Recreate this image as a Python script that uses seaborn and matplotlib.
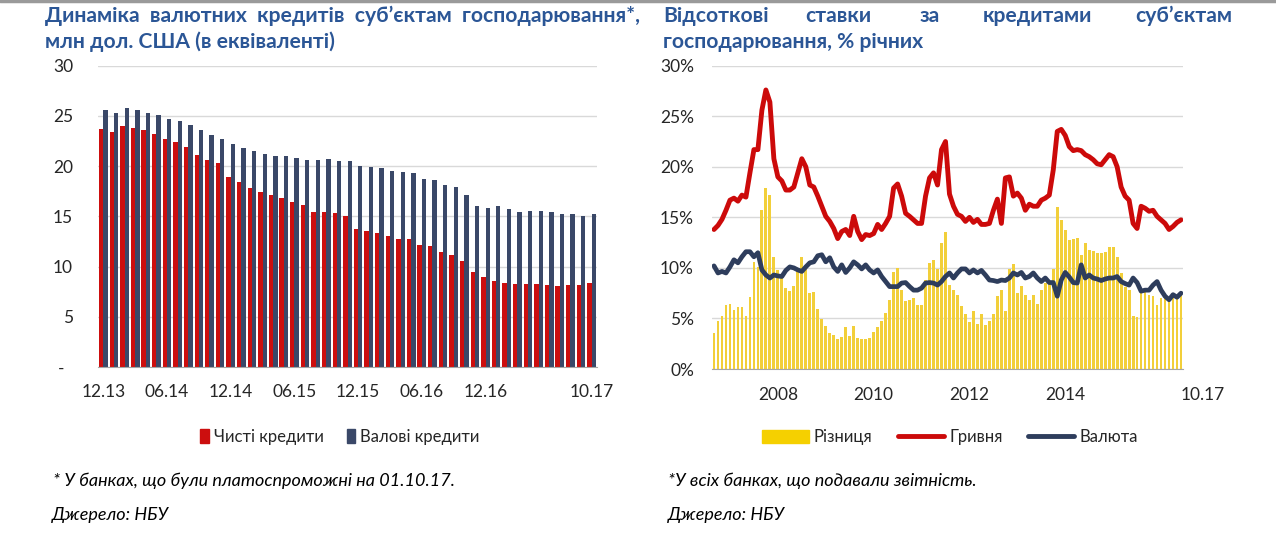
import numpy as np
import pandas as pd
import matplotlib
matplotlib.use("Agg")
import matplotlib.pyplot as plt
import seaborn as sns
from matplotlib.patches import Patch
from matplotlib.lines import Line2D

# ---------------- data: left chart (USD bln, monthly 12.13 .. 10.17) ----------------
left_months = pd.date_range("2013-12-01", "2017-10-01", freq="MS").strftime("%m.%y").tolist()
net_loans = [23.7, 23.4, 24.0, 23.8, 23.6, 23.2, 22.7, 22.4, 21.9, 21.1,
             20.6, 20.3, 18.9, 18.4, 17.8, 17.4, 17.1, 16.8, 16.4, 16.1,
             15.4, 15.4, 15.3, 15.0, 13.7, 13.5, 13.3, 13.0, 12.7, 12.7,
             12.1, 12.0, 11.5, 11.2, 10.6, 9.5, 8.95, 8.6, 8.35, 8.25,
             8.3, 8.3, 8.15, 8.1, 8.2, 8.2, 8.4]
gross_loans = [25.6, 25.3, 25.8, 25.6, 25.3, 25.1, 24.7, 24.5, 24.1, 23.6,
               23.1, 22.7, 22.2, 21.8, 21.5, 21.2, 21.0, 21.0, 20.8, 20.6,
               20.6, 20.7, 20.5, 20.5, 20.0, 19.95, 19.8, 19.5, 19.4, 19.3,
               18.7, 18.6, 18.1, 17.9, 17.1, 16.0, 15.85, 16.0, 15.7, 15.45,
               15.5, 15.5, 15.4, 15.2, 15.2, 15.0, 15.2]
left_labels = {"12.13", "06.14", "12.14", "06.15", "12.15", "06.16", "12.16", "10.17"}
left_series = ["Чисті кредити", "Валові кредити"]

# ---------------- data: right chart (% p.a., monthly 01.08 .. 10.17) ----------------
right_months = pd.date_range("2008-01-01", "2017-10-01", freq="MS")
uah_rate = [13.8, 14.2, 14.8, 15.7, 16.7, 16.9, 16.6, 17.2, 17.0, 19.4,
            21.7, 21.7, 25.6, 27.6, 26.4, 20.8, 19.0, 18.6, 17.7, 17.7,
            18.0, 19.4, 20.8, 20.0, 18.2, 18.0, 17.1, 16.1, 15.1, 14.6,
            13.9, 12.9, 13.6, 13.8, 13.2, 15.1, 13.6, 12.8, 13.3, 13.2,
            13.4, 14.3, 13.8, 14.4, 15.1, 17.9, 18.3, 17.1, 15.4, 15.1,
            14.75, 14.4, 14.4, 17.1, 18.9, 19.4, 18.2, 21.7, 22.5, 17.3,
            16.1, 15.3, 15.1, 14.6, 15.0, 14.5, 14.8, 14.3, 14.3, 14.4,
            15.7, 16.8, 14.4, 18.9, 19.0, 17.1, 17.4, 16.9, 15.7, 16.3,
            16.1, 16.1, 16.7, 16.9, 17.2, 19.7, 23.5, 23.7, 23.1, 22.0,
            21.6, 21.7, 21.6, 21.2, 21.0, 20.7, 20.3, 20.2, 20.7, 21.2,
            21.0, 20.0, 18.0, 17.1, 16.7, 14.4, 13.9, 16.1, 15.9, 15.6,
            15.7, 15.1, 14.75, 14.4, 13.8, 14.1, 14.5, 14.75]
fx_rate = [10.2, 9.5, 9.65, 9.5, 10.1, 10.8, 10.5, 11.1, 11.6, 11.6,
           11.1, 11.5, 9.8, 9.3, 9.0, 9.3, 9.2, 9.15, 9.75, 10.1,
           10.0, 9.8, 9.65, 10.1, 10.5, 10.6, 11.2, 11.3, 10.6, 11.0,
           10.1, 9.65, 10.3, 9.55, 10.0, 10.6, 10.3, 9.9, 10.3, 9.8,
           9.5, 9.8, 9.15, 8.65, 8.15, 8.15, 8.15, 8.5, 8.55, 8.15,
           7.8, 7.8, 8.0, 8.5, 8.55, 8.5, 8.3, 8.65, 9.15, 9.5,
           9.0, 9.5, 9.9, 9.9, 9.5, 9.8, 9.5, 9.75, 9.3, 8.8,
           8.75, 8.65, 8.8, 8.75, 9.0, 9.5, 9.3, 9.55, 9.0, 9.15,
           9.5, 9.0, 8.65, 9.0, 8.55, 8.55, 7.2, 8.8, 9.55, 9.1,
           8.55, 8.5, 10.3, 9.0, 9.3, 9.0, 8.9, 8.75, 8.9, 9.0,
           9.0, 9.15, 8.65, 8.45, 8.3, 9.0, 8.55, 7.7, 7.8, 7.8,
           8.3, 8.65, 7.8, 7.2, 6.85, 7.35, 7.1, 7.5]
spread = [3.55, 4.7, 5.2, 6.35, 6.4, 5.85, 6.1, 6.1, 5.2, 7.1,
          10.6, 10.1, 15.7, 17.9, 17.2, 11.1, 9.8, 9.0, 8.0, 7.7,
          8.2, 9.65, 11.1, 9.9, 7.5, 7.6, 5.9, 4.9, 4.3, 3.6,
          3.4, 2.95, 3.2, 4.2, 3.3, 4.3, 3.05, 2.95, 2.95, 3.05,
          3.7, 4.2, 4.7, 5.5, 6.85, 9.55, 10.0, 7.8, 6.7, 6.85,
          7.0, 6.35, 6.35, 8.8, 10.5, 10.8, 9.9, 12.5, 13.6, 8.3,
          7.8, 7.3, 6.2, 5.45, 4.6, 5.7, 4.5, 5.45, 4.4, 4.7,
          5.4, 7.2, 7.8, 5.7, 9.9, 10.4, 7.5, 8.2, 7.3, 6.85,
          7.3, 6.4, 7.8, 8.55, 8.4, 9.9, 16.0, 14.75, 13.7, 12.8,
          12.9, 13.0, 11.3, 12.45, 11.8, 11.7, 11.5, 11.5, 11.6, 12.05,
          12.05, 11.05, 9.5, 8.15, 7.8, 5.2, 5.15, 7.8, 7.8, 7.3,
          7.2, 6.35, 7.0, 7.1, 6.9, 7.1, 7.2, 7.3]
right_tick_labels = {"2008-12": "2008", "2010-12": "2010", "2012-12": "2012",
                     "2014-12": "2014", "2017-10": "10.17"}
right_series = ["Різниця", "Гривня", "Валюта"]

# ---------------- styles ----------------
sns.set_style("white")
plt.rcParams["font.family"] = ["Lato", "DejaVu Sans"]
RED_BAR = "#CC0E0E"
BLUE_BAR = "#3A4868"
YELLOW = "#F2CF3A"
RED_LINE = "#CC0A0A"
BLUE_LINE = "#2E3D5C"
TITLE_C = "#2B5696"
GRID_C = "#D9D9D9"
AXIS_C = "#A6A6A6"
TICK_FS = 12.5

W, H = 1276, 546
fig = plt.figure(figsize=(W / 100, H / 100), dpi=100)

def fx(px):
    return px / W

def fy(py):
    return 1 - py / H

# ---------------- left chart ----------------
axL = fig.add_axes([fx(98), fy(367), fx(597) - fx(98), fy(65.7) - fy(367)])
dfL = pd.DataFrame({
    "month": left_months * 2,
    "series": [left_series[0]] * len(left_months) + [left_series[1]] * len(left_months),
    "value": net_loans + gross_loans,
})
sns.barplot(data=dfL, x="month", y="value", hue="series", order=left_months,
            hue_order=left_series, palette=[RED_BAR, BLUE_BAR], saturation=1,
            width=0.82, linewidth=0, legend=False, ax=axL)
nL = len(left_months)
axL.set_xlim(-0.5, nL - 0.5)
axL.set_ylim(0, 30)
axL.set_yticks(np.arange(0, 31, 5))
axL.set_yticklabels(["-"] + [str(v) for v in range(5, 31, 5)], fontsize=TICK_FS)
for t in axL.get_yticklabels()[:1]:
    t.set_x(-0.018)
lab_idx = [i for i, m in enumerate(left_months) if m in left_labels]
axL.set_xticks(lab_idx)
axL.set_xticklabels([left_months[i] for i in lab_idx], fontsize=TICK_FS)
axL.set_xticks(np.arange(-0.5, nL, 1), minor=True)
axL.tick_params(axis="x", which="major", length=0, pad=12)
axL.tick_params(axis="x", which="minor", length=5, color=AXIS_C, width=1)
axL.tick_params(axis="y", length=0, pad=18)
axL.set_xlabel("")
axL.set_ylabel("")
axL.yaxis.grid(True, color=GRID_C, lw=1)
axL.set_axisbelow(True)
for s in ["top", "right", "left"]:
    axL.spines[s].set_visible(False)
axL.spines["bottom"].set_color(AXIS_C)

# ---------------- right chart ----------------
axR = fig.add_axes([fx(712), fy(369), fx(1183) - fx(712), fy(65.7) - fy(369)])
nR = len(right_months)
pos = np.arange(nR)
sns.barplot(x=pos, y=spread, color=YELLOW, saturation=1, width=0.7,
            linewidth=0, ax=axR)
sns.lineplot(x=pos, y=uah_rate, color=RED_LINE, lw=3.5, ax=axR)
sns.lineplot(x=pos, y=fx_rate, color=BLUE_LINE, lw=3.4, ax=axR)
axR.set_xlim(-0.5, nR - 0.5)
axR.set_ylim(0, 30)
axR.set_yticks(np.arange(0, 31, 5))
axR.set_yticklabels([f"{v}%" for v in range(0, 31, 5)], fontsize=TICK_FS)
keys = right_months.strftime("%Y-%m").tolist()
r_idx = [i for i, k in enumerate(keys) if k in right_tick_labels]
axR.set_xticks(r_idx)
axR.set_xticklabels([right_tick_labels[keys[i]] for i in r_idx], fontsize=TICK_FS, ha="left")
axR.set_xticks(np.arange(-0.5, nR, 1), minor=True)
axR.tick_params(axis="x", which="major", length=0, pad=13)
axR.tick_params(axis="x", which="minor", length=4, color=AXIS_C, width=0.8)
axR.tick_params(axis="y", length=0, pad=13)
axR.set_xlabel("")
axR.set_ylabel("")
axR.yaxis.grid(True, color=GRID_C, lw=1)
axR.set_axisbelow(True)
for s in ["top", "right", "left"]:
    axR.spines[s].set_visible(False)
axR.spines["bottom"].set_color(AXIS_C)

# ---------------- titles ----------------
tkw = dict(color=TITLE_C, fontweight="bold", fontsize=15.2, va="center", ha="left")
fig.text(fx(45), fy(16), "Динаміка  валютних  кредитів  суб’єктам  господарювання*,", **tkw)
fig.text(fx(45), fy(42), "млн дол. США (в еквіваленті)", **tkw)
for word, xl in [("Відсоткові", 663), ("ставки", 805), ("за", 920),
                 ("кредитами", 983), ("суб’єктам", 1135)]:
    fig.text(fx(xl), fy(16), word, **tkw)
fig.text(fx(663), fy(42), "господарювання, % річних", **tkw)

# top grey rule
fig.add_artist(Line2D([0, 1], [fy(1), fy(1)], color="#9A9A9A", lw=2.5))

# ---------------- legends ----------------
fig.legend(handles=[Patch(color=RED_BAR), Patch(color=BLUE_BAR)],
           labels=left_series, loc="center", bbox_to_anchor=(fx(340), fy(437)),
           ncol=2, frameon=False, fontsize=12, handlelength=0.5,
           handleheight=0.9, handletextpad=0.3, columnspacing=1.4)
fig.legend(handles=[Patch(color="#F5D000"),
                    Line2D([], [], color=RED_LINE, lw=3.5),
                    Line2D([], [], color=BLUE_LINE, lw=3.5)],
           labels=right_series, loc="center", bbox_to_anchor=(fx(950), fy(437)),
           ncol=3, frameon=False, fontsize=12, handlelength=2.8,
           handleheight=0.8, handletextpad=0.3, columnspacing=1.5)

# ---------------- footnotes ----------------
nkw = dict(style="italic", fontsize=13, va="center", ha="left", color="#000000")
fig.text(fx(53), fy(481), "* У банках, що були платоспроможні на 01.10.17.", **nkw)
fig.text(fx(52), fy(515), "Джерело: НБУ", **nkw)
fig.text(fx(668), fy(481), "*У всіх банках, що подавали звітність.", **nkw)
fig.text(fx(668), fy(515), "Джерело: НБУ", **nkw)

fig.savefig("out.png", dpi=100)
